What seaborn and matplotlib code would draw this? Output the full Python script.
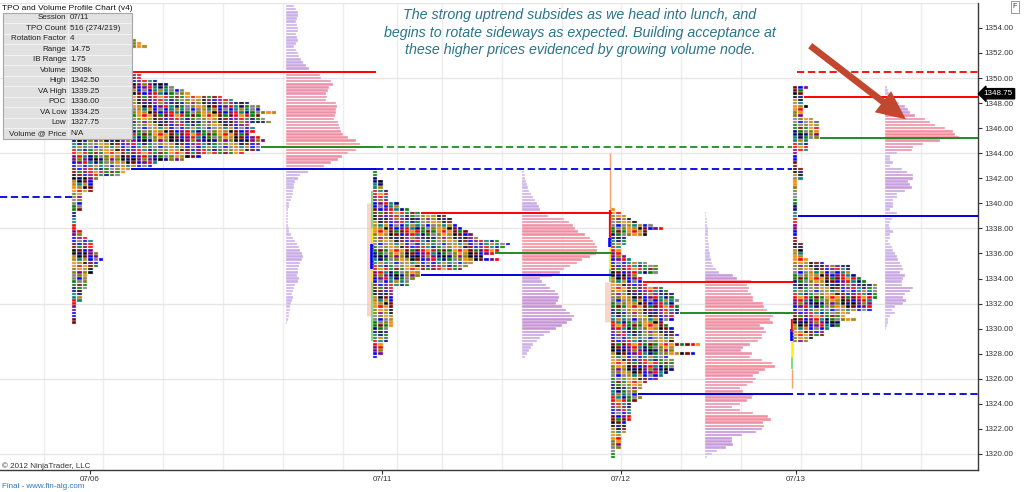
# TPO and volume profile chart, 07/06 - 07/13

import numpy as np
import seaborn as sns
import matplotlib.pyplot as plt
from matplotlib.patches import Rectangle, FancyArrowPatch
from matplotlib.colors import to_rgb

# ---------------------------------------------------
# DATA
# ---------------------------------------------------

sessions = ['07/06', '07/11', '07/12', '07/13']
tick = 0.25

# TPO count per price, from the session high downwards
tpo_high = [1350.25, 1342.50, 1339.50, 1349.25]

tpo_s1 = [13, 13, 16, 18, 19, 21, 22, 28, 30, 33,
          35, 35, 38, 35, 36, 37, 33, 34, 34, 33,
          35, 36, 35, 35, 35, 32, 24, 21, 16, 15,
          11, 10, 9, 5, 4, 4, 4, 4,
          2, 2, 2, 2, 2, 2,
          1, 1, 1, 1, 1, 1,
          2, 2, 3, 4, 4, 4, 4, 5, 5, 6,
          5, 5, 4, 4, 3, 3, 3, 3, 3, 2,
          2, 2, 2, 1, 1, 1, 1, 1, 1, 1]

tpo_s2 = [1, 1, 1, 2, 2, 2, 3, 3, 3, 3,
          5, 5, 7, 9, 14, 15, 15, 16, 17, 18,
          19, 20, 24, 26, 25, 24, 23, 21, 24, 19,
          18, 17, 9, 9, 8, 7, 7, 4, 4, 4,
          4, 4, 4, 4, 4, 4, 4, 4, 4, 4,
          3, 3, 3, 3, 3, 2, 2, 2, 2, 1]

tpo_s3 = [1, 2, 3, 4, 5, 8, 10, 7, 7, 3,
          3, 3, 2, 2, 2, 3, 4, 7, 9, 9,
          9, 5, 6, 6, 7, 10, 11, 12, 12, 13,
          12, 13, 13, 13, 12, 12, 10, 11, 12, 12,
          13, 12, 12, 17, 12, 12, 16, 11, 12, 12,
          12, 12, 11, 10, 9, 7, 6, 6, 5, 5,
          6, 5, 4, 4, 4, 4, 4, 4, 3, 3,
          3, 3, 2, 2, 2, 2, 2, 1, 1, 1]

tpo_s4 = [3, 2, 2, 2, 2, 2, 3, 2, 2, 2,
          4, 5, 5, 5, 5, 5, 5, 3, 3, 3,
          3, 1, 1, 1, 1, 1, 2, 2, 2, 2,
          1, 1, 1, 1, 1, 1, 1, 1, 1, 1,
          1, 1, 1, 1, 1, 1, 1, 1, 1, 1,
          2, 2, 2, 2, 2, 3, 6, 11, 11, 11,
          12, 13, 14, 16, 16, 16, 16, 16, 15, 15,
          15, 15, 11, 10, 12, 9, 9, 7, 6, 6,
          4, 3]

# stray prints above the first profile
tpo_s1_top = [1353.00, 1352.75, 1352.50]
tpo_s1_top_n = [1, 2, 3]

# volume at price, from the top of each profile downwards
vol_high = [1355.75, 1342.50, 1339.25, 1349.25]

vol_s1 = [8, 10, 12, 12, 11, 10, 11, 12, 12, 10,
          11, 12, 10, 8, 10, 12, 13, 15, 17, 20,
          23, 28, 34, 35, 45, 47, 43, 42, 40, 41,
          40, 50, 51, 50, 50, 49, 48, 52, 53, 54,
          55, 57, 62, 70, 74, 75, 70, 62, 56, 52,
          45, 38, 28, 22, 14, 12, 9, 8, 8, 7,
          7, 6, 5, 3, 3, 2, 2, 2, 2, 2,
          2, 3, 3, 5, 7, 9, 11, 13, 14, 16,
          17, 16, 14, 13, 12, 12, 11, 13, 12, 9,
          8, 7, 6, 7, 6, 5, 4, 4, 3, 3,
          2, 1]

vol_s2 = [2, 3, 3, 4, 5, 6, 7, 9, 11, 13,
          15, 17, 18, 24, 26, 42, 47, 51, 53, 56,
          63, 68, 71, 73, 75, 75, 74, 68, 60, 55,
          48, 42, 38, 30, 18, 20, 24, 28, 33, 36,
          37, 36, 34, 40, 44, 48, 52, 50, 45, 40,
          34, 28, 22, 18, 15, 11, 9, 7, 5, 3]

vol_s3 = [1, 1, 2, 2, 2, 3, 3, 3, 3, 3,
          4, 4, 4, 5, 5, 6, 7, 8, 11, 14,
          28, 32, 46, 42, 44, 43, 46, 48, 48, 58,
          59, 62, 74, 68, 65, 68, 55, 59, 61, 57,
          57, 53, 45, 38, 36, 47, 45, 57, 67, 70,
          60, 54, 48, 51, 48, 42, 35, 38, 48, 47,
          42, 35, 27, 35, 48, 63, 66, 58, 59, 57,
          51, 37, 27, 27, 28, 21, 12, 7, 2]

vol_s4 = [2, 3, 4, 6, 8, 14, 20, 23, 25, 30,
          40, 45, 50, 60, 68, 70, 74, 55, 38, 28,
          27, 12, 5, 5, 8, 5, 17, 22, 28, 28,
          23, 25, 27, 20, 12, 12, 8, 8, 8, 5,
          12, 12, 7, 5, 4, 5, 8, 5, 5, 3,
          5, 7, 8, 10, 12, 13, 15, 17, 18, 15,
          20, 18, 17, 17, 28, 25, 20, 18, 21, 18,
          10, 7, 10, 5, 3, 3, 2, 1]

# volume value area (pink part of each volume profile)
vol_va_hi = [1350.50, 1339.25, 1333.75, 1347.00]
vol_va_lo = [1342.75, 1334.25, 1322.25, 1344.25]

# session levels
vah = [1350.50, 1339.25, 1333.75, 1348.50]
poc = [1344.50, 1336.00, 1331.25, 1345.25]
val = [1342.75, 1334.25, 1324.75, 1339.00]
prev_val = 1340.50
last_price = 1348.75

# opening / initial balance marks at the left edge of each profile
stripe_session = [1, 1, 1, 1, 2, 2, 2, 2, 2, 2, 3, 3, 3, 3, 3]
stripe_lo = [1331.00, 1329.00, 1333.75, 1334.75, 1330.50, 1339.50, 1337.25, 1336.50,
             1334.75, 1333.75, 1325.25, 1326.75, 1327.75, 1329.00, 1329.75]
stripe_hi = [1340.00, 1341.00, 1338.00, 1336.75, 1333.75, 1344.00, 1339.50, 1337.25,
             1336.50, 1334.75, 1326.75, 1327.75, 1329.00, 1330.00, 1330.75]
stripe_kind = ['shade', 'green', 'yellow', 'ib', 'shade', 'open', 'red', 'ib',
               'yellow', 'green', 'open', 'green', 'yellow', 'ib', 'red']

info_labels = ['Session', 'TPO Count', 'Rotation Factor', 'Range', 'IB Range', 'Volume',
               'High', 'VA High', 'POC', 'VA Low', 'Low', 'Volume @ Price']
info_values = ['07/11', '516 (274/219)', '4', '14.75', '1.75', '1908k',
               '1342.50', '1339.25', '1336.00', '1334.25', '1327.75', 'N/A']

note_lines = ['The strong uptrend subsides as we head into lunch, and',
              'begins to rotate sideways as expected. Building acceptance at',
              'these higher prices evidenced by growing volume node.']

tpo_rows = [tpo_s1, tpo_s2, tpo_s3, tpo_s4]
vol_rows = [vol_s1, vol_s2, vol_s3, vol_s4]

# ---------------------------------------------------
# STYLE / LAYOUT
# ---------------------------------------------------

sns.set_theme(style='white')
plt.rcParams['font.family'] = ['Liberation Sans', 'DejaVu Sans']

tpo_left = [72, 373, 611, 793]
vol_left = [285.5, 522, 705, 885]
pitch = [5.4, 5.3, 5.3, 5.3]
palette = ['#ff0000', '#808000', '#0000ff', '#008000', '#000000', '#008080',
           '#ff8c00', '#800080', '#808080', '#800000', '#000080', '#b8860b']
grid_x = [44, 103, 163, 223, 283, 343, 397, 442, 502, 562, 621, 681, 741, 801, 861, 921]
date_x = [90, 382, 621, 796]

RED, GREEN, BLUE = '#ff0000', '#228b22', '#0000dd'


def mix(c1, c2, t):
    a, b = np.array(to_rgb(c1)), np.array(to_rgb(c2))
    return tuple(a + (b - a) * t)


fig = plt.figure(figsize=(10.24, 4.92), dpi=100)
ax = fig.add_axes([0, 1 - 470 / 492, 978 / 1024, 467.5 / 492])
ax.set_xlim(0, 978)
ax.set_ylim(1318.72, 1356.03)

# grid
for gx in grid_x:
    ax.axvline(gx, color='#ededed', lw=1, zorder=0)
for gy in range(1320, 1357, 6):
    ax.axhline(gy, color='#e6e6e6', lw=1, zorder=0)

# ---------------------------------------------------
# TPO PROFILES
# ---------------------------------------------------

for s in range(4):
    ys, xs, cs = [], [], []
    prices = tpo_high[s] - tick * np.arange(len(tpo_rows[s]))
    for r, (p, n) in enumerate(zip(prices, tpo_rows[s])):
        for c in range(n):
            ys.append(p)
            xs.append(tpo_left[s] + c * pitch[s])
            cs.append(palette[(5 * c + 7 * (r // 2) + (r % 2) * (c % 3) + 3 * s) % 12])
    if s == 0:
        for p, n in zip(tpo_s1_top, tpo_s1_top_n):
            for c in range(n):
                ys.append(p)
                xs.append(tpo_left[0] + (11 + c) * pitch[0])
                cs.append(palette[(c * 5 + 1) % 12])
    ax.barh(ys, 4.4, left=xs, height=0.2, color=cs, align='center',
            edgecolor='#d4d4d4', linewidth=0.3, zorder=3)

# left edge marks
stripe_style = {'shade': ('#f7b59c', 5, 0.55, -3),
                'green': ('#7ee07e', 1.5, 1, -1.5),
                'yellow': ('#ffee00', 1.8, 1, -1.5),
                'ib': ('#0000ff', 2.6, 1, -1.5),
                'open': ('#f8a070', 1.0, 1, -1.5),
                'red': ('#ff0000', 1.6, 1, -1.5)}
for s, lo, hi, kind in zip(stripe_session, stripe_lo, stripe_hi, stripe_kind):
    col, lw, al, dx = stripe_style[kind]
    ax.vlines(tpo_left[s] + dx, lo, hi, color=col, lw=lw, alpha=al, zorder=2.5)

# ---------------------------------------------------
# VOLUME PROFILES
# ---------------------------------------------------

for s in range(4):
    v = np.array(vol_rows[s], dtype=float)
    prices = vol_high[s] - tick * np.arange(len(v))
    t = v / v.max()
    cols = []
    for p, tt in zip(prices, t):
        if vol_va_lo[s] <= p <= vol_va_hi[s]:
            cols.append(mix('#d998c6', '#f78d98', tt))
        else:
            cols.append(mix('#cbbff4', '#c595d6', min(1, tt * 2.2)))
    ax.barh(prices, v, left=vol_left[s], height=0.2, color=cols, align='center',
            edgecolor='#fbeef3', linewidth=0.3, zorder=3)

# ---------------------------------------------------
# VALUE AREA / POC LINES
# ---------------------------------------------------

def row_edge(s, price):
    i = int(round((tpo_high[s] - price) / tick))
    if 0 <= i < len(tpo_rows[s]):
        return tpo_left[s] + tpo_rows[s][i] * pitch[s]
    return tpo_left[s] + 8


ends = [376, 612, 793, 978]
for s in range(4):
    for lvl, col in [(vah, RED), (poc, GREEN), (val, BLUE)]:
        ax.hlines(lvl[s], row_edge(s, lvl[s]), ends[s], color=col, lw=1.4, zorder=4)

dash = (0, (4, 2))
ax.hlines(poc[0], 376, 792, color=GREEN, lw=1.3, linestyles=dash, zorder=4)
ax.hlines(val[0], 376, 792, color=BLUE, lw=1.3, linestyles=dash, zorder=4)
ax.hlines(vah[0], 797, 978, color=RED, lw=1.3, linestyles=dash, zorder=4)
ax.hlines(val[2], 797, 978, color=BLUE, lw=1.3, linestyles=dash, zorder=4)
ax.hlines(prev_val, 0, tpo_left[0], color=BLUE, lw=1.3, linestyles=dash, zorder=4)

# ---------------------------------------------------
# AXES
# ---------------------------------------------------

ax.yaxis.tick_right()
yt = np.arange(1320, 1355, 2)
ax.set_yticks(yt)
ax.set_yticklabels([f'{v:.2f}' for v in yt])
ax.set_xticks(date_x)
ax.set_xticklabels(sessions)
ax.tick_params(axis='y', length=3, width=0.8, colors='#333333', labelsize=5.8, pad=1.5)
ax.tick_params(axis='x', length=3, width=0.8, colors='#333333', labelsize=5.8, pad=1.5)
ax.tick_params(axis='y', which='both', right=True, left=False)
ax.tick_params(axis='x', which='both', bottom=True)
for side in ['left', 'top']:
    ax.spines[side].set_visible(False)
for side in ['right', 'bottom']:
    ax.spines[side].set_color('#3a3a3a')
    ax.spines[side].set_linewidth(1)

# last price tag
ax.text(1.006, last_price, f'{last_price:.2f}', transform=ax.get_yaxis_transform(),
        color='white', fontsize=5.8, va='center', ha='left', zorder=10,
        bbox=dict(boxstyle='larrow,pad=0.2', fc='black', ec='black'))

# ---------------------------------------------------
# OVERLAY: info table, note, arrow, credits
# ---------------------------------------------------

ov = fig.add_axes([0, 0, 1, 1], zorder=10)
ov.set_xlim(0, 1024)
ov.set_ylim(492, 0)
ov.axis('off')
ov.patch.set_alpha(0)

ov.text(2, 8, 'TPO and Volume Profile Chart (v4)', fontsize=6, va='center', ha='left',
        color='#111111')
row_h = 10.5
for i, (lab, v) in enumerate(zip(info_labels, info_values)):
    y0 = 12.7 + i * row_h
    ov.add_patch(Rectangle((2.7, y0), 65.3, row_h, fc='#e1e1e1', ec='#f2f2f2', lw=0.8))
    ov.add_patch(Rectangle((68, y0), 63.7, row_h, fc='#e1e1e1', ec='#f2f2f2', lw=0.8))
    ov.text(66, y0 + row_h / 2, lab, fontsize=5.8, ha='right', va='center', color='#222222')
    ov.text(70, y0 + row_h / 2, v, fontsize=5.8, ha='left', va='center', color='#222222')
ov.add_patch(Rectangle((2.7, 12.7), 129, row_h * len(info_labels), fill=False,
                       ec='#a8a8a8', lw=0.8))

for k, line in enumerate(note_lines):
    ov.text(580, 15 + 17.5 * k, line, fontsize=10.3, style='italic', ha='center',
            va='center', color='#2a7489')

ov.add_patch(FancyArrowPatch((808, 44), (908, 121),
                             arrowstyle='simple,head_length=1.3,head_width=1.2,tail_width=0.3',
                             mutation_scale=16, color='#c1472e', lw=0))

ov.text(1015, 7, 'F', fontsize=5, ha='center', va='center', color='#333333',
        bbox=dict(fc='white', ec='#888888', lw=0.6, boxstyle='square,pad=0.3'))
ov.text(2, 466, '© 2012 NinjaTrader, LLC', fontsize=5.8, ha='left', va='center',
        color='#333333')
ov.text(2, 486, 'Final - www.fin-alg.com', fontsize=5.8, ha='left', va='center',
        color='#2f74c0')

plt.savefig('out.png', dpi=100)
